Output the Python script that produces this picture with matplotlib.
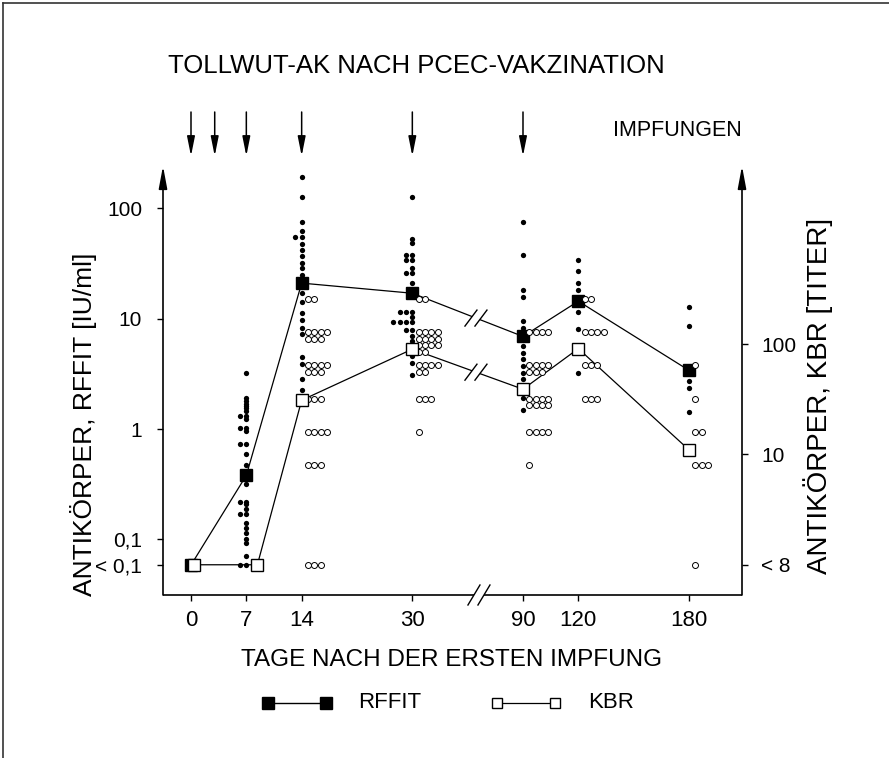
import numpy as np
import matplotlib
matplotlib.use('Agg')
import matplotlib.pyplot as plt
from matplotlib.patches import Polygon
from matplotlib.ticker import NullLocator

plt.rcParams['font.family'] = ['Liberation Sans Narrow', 'Liberation Sans', 'DejaVu Sans']

# ---------------- data ----------------
DAYS = [0, 7, 14, 30, 90, 120, 180]
DAY_LABELS = ['0', '7', '14', '30', '90', '120', '180']
VACCINATION_DAYS = [0, 3, 7, 14, 30, 90]

# broken time axis: day -> axis position
DAY_KNOTS = [0, 14, 30, 90, 180]
POS_KNOTS = [0, 2, 4, 6, 9]

RFFIT_LOW = 0.0585   # plotted level of "< 0,1" IU/ml
KBR_LOW = 1.0        # plotted level of "< 8" titer
TITER_PER_IU = 17.0  # right axis (titer) relative to left axis (IU/ml)

RFFIT_MEAN = [RFFIT_LOW, 0.38, 21.0, 17.0, 6.9, 14.4, 3.4]
KBR_MEAN = [KBR_LOW, KBR_LOW, 31.0, 90.0, 39.0, 91.0, 11.0]
KBR_SQUARE_NUDGE = [0.05, 0.2, 0, 0, 0, 0, 0]

RFFIT_D0 = [RFFIT_LOW]
RFFIT_D7 = [3.2, 1.9, 1.8, 1.7, 1.6, 1.55, 1.45, 1.3, 1.3, 1.23, 1.02, 1.02, 0.96,
            0.73, 0.73, 0.59, 0.47, 0.32, 0.22, 0.22, 0.21, 0.19, 0.17, 0.17, 0.14,
            0.126, 0.113, 0.10, 0.092, 0.07, RFFIT_LOW, RFFIT_LOW]
RFFIT_D14 = [193, 127, 75, 62, 55, 55, 47.6, 41.5, 36.6, 32, 28.5, 25, 17, 14.3,
             11.3, 9.7, 8.3, 7.3, 4.47, 3.9, 2.83, 2.25]
RFFIT_D30 = [127, 53, 48, 38, 38, 34, 34, 29, 26, 26, 21, 11.4, 11.4, 11.4, 10.3,
             9.25, 9.25, 9.25, 9.25, 7.9, 7.9, 7.0, 6.3, 4.6, 4.0, 3.1]
RFFIT_D90 = [75, 38, 18.3, 15.8, 9.6, 8.3, 5.6, 4.9, 4.3, 3.7, 3.25, 2.83, 2.46, 1.9, 1.48]
RFFIT_D120 = [33.7, 26.8, 20.9, 18, 11.4, 8.1, 3.2]
RFFIT_D180 = [12.7, 8.5, 2.73, 2.37, 1.44]

KBR_D0 = []
KBR_D7 = []
KBR_D14 = [256, 256, 128, 128, 128, 128, 128, 128, 128, 64, 64, 64, 64, 64, 64, 64,
           32, 32, 32, 16, 16, 16, 16, 8, 8, 8, KBR_LOW, KBR_LOW, KBR_LOW]
KBR_D30 = [256, 256, 128, 128, 128, 128, 128, 128, 128, 128, 128, 128, 128, 128, 128, 128,
           64, 64, 64, 64, 64, 64, 32, 32, 32, 16]
KBR_D90 = [128, 128, 128, 128, 64, 64, 64, 64, 64, 64, 64, 32, 32, 32, 32, 32, 32, 32, 32,
           16, 16, 16, 16, 8]
KBR_D120 = [256, 256, 128, 128, 128, 128, 64, 64, 64, 32, 32, 32]
KBR_D180 = [64, 32, 16, 16, 8, 8, 8, KBR_LOW]

RFFIT_BY_DAY = [RFFIT_D0, RFFIT_D7, RFFIT_D14, RFFIT_D30, RFFIT_D90, RFFIT_D120, RFFIT_D180]
KBR_BY_DAY = [KBR_D0, KBR_D7, KBR_D14, KBR_D30, KBR_D90, KBR_D120, KBR_D180]

# ---------------- figure ----------------
W, H = 889, 758
fig = plt.figure(figsize=(W / 100, H / 100), dpi=100)


def rect(l, t, r, b):
    return [l / W, 1 - b / H, (r - l) / W, (b - t) / H]


def day_pos(d):
    return np.interp(d, DAY_KNOTS, POS_KNOTS)


ax = fig.add_axes(rect(163, 168, 742, 595))
ax.set_yscale('log')
ax.set_xlim(-0.506, 9.958)
ax.set_ylim(0.0313, 232)
ax2 = ax.twinx()
ax2.set_yscale('log')
ax2.set_ylim(0.0313 * TITER_PER_IU, 232 * TITER_PER_IU)
for a in (ax, ax2):
    for s in a.spines.values():
        s.set_visible(False)
    a.yaxis.set_minor_locator(NullLocator())
    a.patch.set_visible(False)

xpos = day_pos(DAYS)
ax.set_xticks(xpos, labels=DAY_LABELS)
ax.tick_params(axis='x', direction='out', length=4, width=1, pad=7, labelsize=16)
ax.set_yticks([100, 10, 1, 0.1, RFFIT_LOW], labels=['100', '10', '1', '0,1', '< 0,1'])
ax.tick_params(axis='y', direction='out', length=4, width=1, pad=11, labelsize=15)
ax2.set_yticks([100, 10, KBR_LOW], labels=['100', '10', '< 8'])
ax2.tick_params(axis='y', direction='out', length=4, width=1, pad=10, labelsize=15)

# pixel scale helpers
px_per_x = ax.transData.transform((1, 1))[0] - ax.transData.transform((0, 1))[0]
px_per_dec = ax.transData.transform((0, 10))[1] - ax.transData.transform((0, 1))[1]
SP = 6.3 / px_per_x              # horizontal slot between dots
ROW = 10 ** (-6.5 / px_per_dec)  # factor for a new row below

# individual RFFIT values (filled dots), equal values side by side to the left
for p, vals in zip(xpos, RFFIT_BY_DAY):
    xs, ys = [], []
    for v in sorted(set(vals)):
        n = vals.count(v)
        for k in range(n):
            xs.append(p - k * SP)
            ys.append(v)
    ax.plot(xs, ys, 'o', ms=3.8, color='black', mec='black', mew=0, zorder=3)

# individual KBR titres (open circles), placed to the right of the column
for p, vals in zip(xpos, KBR_BY_DAY):
    xs, ys = [], []
    for v in sorted(set(vals)):
        n = vals.count(v)
        for k in range(n):
            row, col = divmod(k, 4)
            xs.append(p + (1 + col) * SP)
            ys.append(v * ROW ** row)
    if xs:
        ax2.plot(xs, ys, 'o', ms=4.3, mfc='white', mec='black', mew=0.7, zorder=3)

# mean curves
ax.plot(xpos, RFFIT_MEAN, '-', color='black', lw=0.9, zorder=2)
ax.plot(xpos, RFFIT_MEAN, 's', ms=8, color='black', zorder=4)
kx = xpos + np.array(KBR_SQUARE_NUDGE)
ax2.plot(kx, KBR_MEAN, '-', color='black', lw=0.9, zorder=2)
ax2.plot(kx, KBR_MEAN, 's', ms=8, mfc='white', mec='black', mew=1.0, zorder=4)

# ---------------- overlay in pixel coordinates ----------------
ov = fig.add_axes([0, 0, 1, 1], zorder=10)
ov.set_xlim(0, W)
ov.set_ylim(H, 0)
ov.axis('off')


def to_px(a, x, y):
    d = a.transData.transform((x, y))
    return d[0], H - d[1]


L0x, B0y = to_px(ax, -0.506, 0.0313)
R0x, T0y = to_px(ax, 9.958, 232)

arrow_kw = dict(arrowstyle='-|>,head_length=0.75,head_width=0.14', mutation_scale=18,
                lw=1.2, color='black', shrinkA=0, shrinkB=0)
ov.annotate('', xy=(L0x, T0y - 2), xytext=(L0x, B0y), arrowprops=arrow_kw)
ov.annotate('', xy=(R0x, T0y - 2), xytext=(R0x, B0y), arrowprops=arrow_kw)
ov.plot([L0x, R0x], [B0y, B0y], color='black', lw=1.2, solid_capstyle='butt')


def brk(cx, cy, dx=6, dy=10, sep=10):
    xa, xb = cx - sep / 2, cx + sep / 2
    poly = Polygon([(xa - dx, cy + dy), (xa + dx, cy - dy), (xb + dx, cy - dy), (xb - dx, cy + dy)],
                   closed=True, facecolor='white', edgecolor='none', zorder=5)
    ov.add_patch(poly)
    for x0 in (xa, xb):
        ov.plot([x0 - dx, x0 + dx], [cy + dy, cy - dy], color='black', lw=1.0, zorder=6)


BREAK_POS = 5.15
bx, _ = to_px(ax, BREAK_POS, 1)
brk(bx + 3, B0y)
# breaks on the two curves between day 30 and day 90
i30, i90 = DAYS.index(30), DAYS.index(90)
for a, xs_, ys_ in ((ax, xpos, RFFIT_MEAN), (ax2, kx, KBR_MEAN)):
    x1, y1 = to_px(a, xs_[i30], ys_[i30])
    x2, y2 = to_px(a, xs_[i90], ys_[i90])
    t = (bx - x1) / (x2 - x1)
    brk(bx, y1 + t * (y2 - y1), dy=8)

# vaccination arrows
varrow = dict(arrowstyle='-|>,head_length=0.65,head_width=0.13', mutation_scale=18,
              lw=1.1, color='black', shrinkA=0, shrinkB=0)
for d in VACCINATION_DAYS:
    x, _ = to_px(ax, day_pos(d), 1)
    ov.annotate('', xy=(x, 156), xytext=(x, 112), arrowprops=varrow)
ov.text(613, 131, 'IMPFUNGEN', fontsize=15.5, ha='left', va='center')

# texts
ov.text(416, 66, 'TOLLWUT-AK NACH PCEC-VAKZINATION', fontsize=18.5, ha='center', va='center')
ov.text(452, 660, 'TAGE NACH DER ERSTEN IMPFUNG', fontsize=17.5, ha='center', va='center')
ov.text(84, 424, 'ANTIKÖRPER, RFFIT [IU/ml]', fontsize=19, rotation=90, ha='center', va='center')
ov.text(818, 396, 'ANTIKÖRPER, KBR [TITER]', fontsize=20, rotation=90, ha='center', va='center')

# legend
ov.plot([268, 326], [703, 703], color='black', lw=1.0)
ov.plot([268, 326], [703, 703], 's', ms=9, color='black')
ov.text(358, 703, 'RFFIT', fontsize=16, ha='left', va='center')
ov.plot([497, 555], [703, 703], color='black', lw=0.9)
ov.plot([497, 555], [703, 703], 's', ms=7.5, mfc='white', mec='black', mew=1.0)
ov.text(588, 703, 'KBR', fontsize=16, ha='left', va='center')

# scan frame (top and left edges)
ov.plot([3, 3], [3, H], color='#333333', lw=1.2)
ov.plot([3, W], [3, 3], color='#333333', lw=1.2)

fig.savefig('out.png', dpi=100)
